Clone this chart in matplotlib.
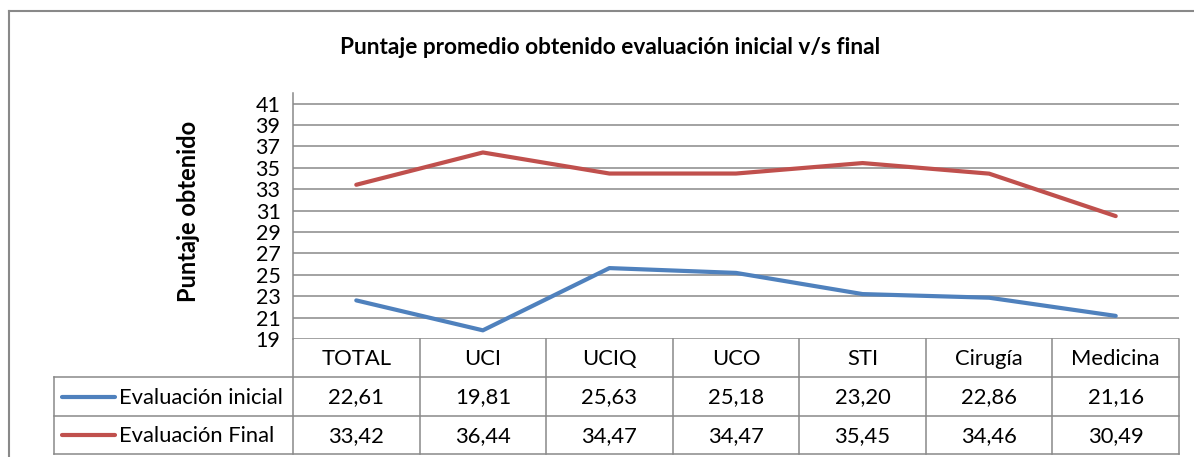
import matplotlib
matplotlib.use("Agg")
import matplotlib.pyplot as plt
from matplotlib.lines import Line2D

categories = ["TOTAL", "UCI", "UCIQ", "UCO", "STI", "Cirugía", "Medicina"]
inicial = [22.61, 19.81, 25.63, 25.18, 23.20, 22.86, 21.16]
final = [33.42, 36.44, 34.47, 34.47, 35.45, 34.46, 30.49]
series_names = ["Evaluación inicial", "Evaluación Final"]
series_colors = ["#4F81BD", "#C0504D"]
yticks = list(range(19, 42, 2))

plt.rcParams['font.family'] = ['Lato', 'DejaVu Sans']

W, H = 1194, 457
fig = plt.figure(figsize=(W / 100, H / 100), dpi=100)

# overlay in pixel coordinates
ov = fig.add_axes([0, 0, 1, 1])
ov.set_xlim(0, W)
ov.set_ylim(H, 0)
ov.axis("off")

GRID = "#898989"
# plot area geometry (pixels)
PL, PR, PT, PB = 293, 1179, 93, 339
R1, R2, R3 = 377, 416, 454
TL = 54

ax = fig.add_axes([PL / W, 1 - PB / H, (PR - PL) / W, (PB - PT) / H])
ax.set_zorder(2)
ax.patch.set_alpha(0)
ax.set_xlim(-0.5, len(categories) - 0.5)
ax.set_ylim(19, 42)
ax.set_yticks(yticks)
ax.set_yticklabels([str(t) for t in yticks], fontsize=15.5)
ax.tick_params(axis="y", length=0, pad=9)
ax.set_xticks([])
for t in yticks:
    ax.axhline(t, color=GRID, lw=1.1, zorder=1)
for s in ["top", "right", "bottom"]:
    ax.spines[s].set_visible(False)
ax.spines["left"].set_color(GRID)
ax.spines["left"].set_linewidth(1.1)

xs = list(range(len(categories)))
for vals, c in zip([inicial, final], series_colors):
    ax.plot(xs, vals, color=c, lw=3.0, solid_capstyle="round", zorder=3)

ov.text(188, 211, "Puntaje obtenido", rotation=90, ha="center", va="center",
        fontsize=17, fontweight="bold")

ov.text(610, 47, "Puntaje promedio obtenido evaluación inicial v/s final",
        ha="center", va="center", fontsize=16.3, fontweight="bold")

# outer chart border (extends beyond image at right/bottom)
ov.add_line(Line2D([9, 9], [11, H + 5], color=GRID, lw=1.5))
ov.add_line(Line2D([9, W + 5], [11, 11], color=GRID, lw=1.5))

# data table
colw = (PR - PL) / len(categories)
for y in [R1, R2, R3]:
    ov.add_line(Line2D([TL, PR], [y, y], color=GRID, lw=1.1))
ov.add_line(Line2D([TL, TL], [R1, R3], color=GRID, lw=1.1))
ov.add_line(Line2D([PL, PL], [PB, R3], color=GRID, lw=1.1))
for k in range(1, len(categories) + 1):
    x = PL + k * colw
    ov.add_line(Line2D([x, x], [PB, R3], color=GRID, lw=1.1))

rows_y = [(PB + R1) / 2, (R1 + R2) / 2, (R2 + R3) / 2]
fs = 15.8
for i, cat in enumerate(categories):
    cx = PL + (i + 0.5) * colw
    ov.text(cx, rows_y[0] + 1, cat, ha="center", va="center", fontsize=fs)
    ov.text(cx, rows_y[1] + 1, f"{inicial[i]:.2f}".replace(".", ","), ha="center", va="center", fontsize=fs)
    ov.text(cx, rows_y[2] + 1, f"{final[i]:.2f}".replace(".", ","), ha="center", va="center", fontsize=fs)

for j, (name, c) in enumerate(zip(series_names, series_colors)):
    yy = rows_y[j + 1]
    ov.add_line(Line2D([62, 115], [yy, yy], color=c, lw=3.0, solid_capstyle="round"))
    ov.text(119, yy + 1, name, ha="left", va="center", fontsize=fs)

fig.savefig("out.png", dpi=100)
